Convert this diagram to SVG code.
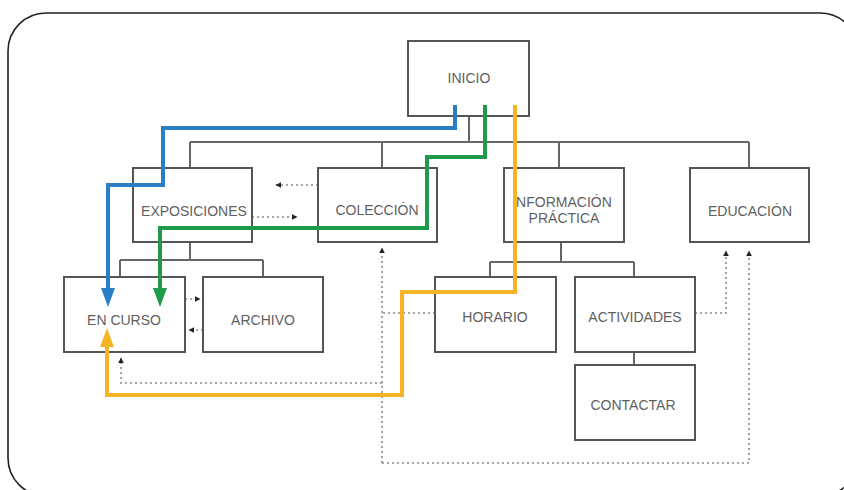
<svg xmlns="http://www.w3.org/2000/svg" width="844" height="490" viewBox="0 0 844 490">
<defs>
<style>
.box{fill:#fff;stroke:#555;stroke-width:2}
.t{font-family:"Liberation Sans",Arial,sans-serif;font-size:14px;fill:#5f5f5f;text-anchor:middle}
.tree{fill:none;stroke:#666;stroke-width:2}
.dot{fill:none;stroke:#8a8a8a;stroke-width:1.6;stroke-dasharray:2 3}
.blue{fill:none;stroke:#2a7fc4;stroke-width:4}
.green{fill:none;stroke:#1e9a4a;stroke-width:4}
.orange{fill:none;stroke:#f5b326;stroke-width:4}
</style>
<marker id="sa" viewBox="0 0 10 10" refX="9" refY="5" markerWidth="6" markerHeight="6" markerUnits="userSpaceOnUse" orient="auto"><path d="M0,0L10,5L0,10z" fill="#222"/></marker>
</defs>
<rect x="8" y="13" width="850" height="483" rx="38" ry="38" fill="#fff" stroke="#222" stroke-width="1.6"/>
<g id="connectors">
<path class="tree" d="M469,116V142M190,142H749M190,142V168M382,142V168M559,142V168M749,142V168"/>
<path class="tree" d="M190,242V260M120,260H263M120,260V277M263,260V277"/>
<path class="tree" d="M561,242V262M490,262H634M490,262V277M634,262V277M634,352V365"/>
<path class="dot" d="M318,185H276" marker-end="url(#sa)"/>
<path class="dot" d="M252,217H297" marker-end="url(#sa)"/>
<path class="dot" d="M185,299H200" marker-end="url(#sa)"/>
<path class="dot" d="M203,330H189" marker-end="url(#sa)"/>
<path class="dot" d="M382,463V248" marker-end="url(#sa)"/>
<path class="dot" d="M382,463H749V251" marker-end="url(#sa)"/>
<path class="dot" d="M435,313H382"/>
<path class="dot" d="M382,383H121V358" marker-end="url(#sa)"/>
<path class="dot" d="M695,313H726V251" marker-end="url(#sa)"/>
</g>
<g id="inicio"><rect class="box" x="408" y="41" width="121" height="75"/><text class="t" x="469" y="83">INICIO</text></g>
<g id="exposiciones"><rect class="box" x="133" y="168" width="119" height="74"/><text class="t" x="194" y="216">EXPOSICIONES</text></g>
<g id="coleccion"><rect class="box" x="318" y="168" width="119" height="74"/><text class="t" x="377" y="215">COLECCIÓN</text></g>
<g id="informacion"><rect class="box" x="504" y="168" width="120" height="74"/><text class="t" x="562" y="207">INFORMACIÓN</text><text class="t" x="564" y="223">PRÁCTICA</text></g>
<g id="educacion"><rect class="box" x="690" y="168" width="119" height="74"/><text class="t" x="750" y="216">EDUCACIÓN</text></g>
<g id="encurso"><rect class="box" x="64" y="277" width="121" height="75"/><text class="t" x="124" y="325">EN CURSO</text></g>
<g id="archivo"><rect class="box" x="203" y="277" width="120" height="75"/><text class="t" x="263" y="325">ARCHIVO</text></g>
<g id="horario"><rect class="box" x="435" y="277" width="121" height="75"/><text class="t" x="495" y="322">HORARIO</text></g>
<g id="actividades"><rect class="box" x="575" y="277" width="120" height="75"/><text class="t" x="635" y="322">ACTIVIDADES</text></g>
<g id="contactar"><rect class="box" x="575" y="365" width="120" height="75"/><text class="t" x="633" y="410">CONTACTAR</text></g>
<g id="paths">
<path class="blue" d="M455,105V128H163V185H108V290"/>
<path d="M101,288H115L108,307z" fill="#2a7fc4"/>
<path class="green" d="M485,105V157H427V228H160V290"/>
<path d="M153,288H167L160,307z" fill="#1e9a4a"/>
<path class="orange" d="M515,105V292H402V395H107V345"/>
<path d="M100,347H114L107,328z" fill="#f5b326"/>
</g>
</svg>
